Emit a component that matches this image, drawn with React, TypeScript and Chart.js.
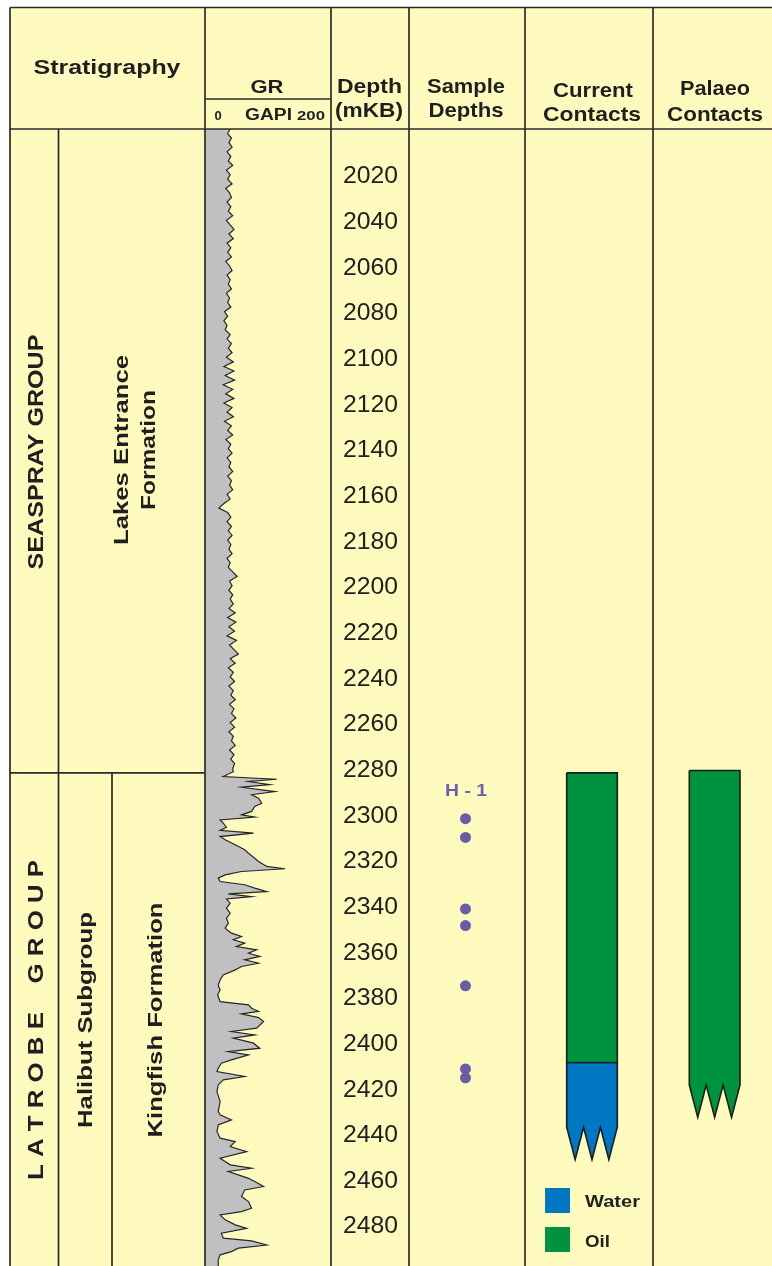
import { useEffect, useRef } from 'react';
import { Chart, registerables } from 'chart.js';

Chart.register(...registerables);

// ---------------- DATA ----------------
const depthTicks = [2020, 2040, 2060, 2080, 2100, 2120, 2140, 2160, 2180, 2200, 2220, 2240, 2260, 2280, 2300, 2320, 2340, 2360, 2380, 2400, 2420, 2440, 2460, 2480];

// [depth mKB, GR GAPI]
const grLog: [number, number][] = [
  [2000, 40], [2002, 36], [2004, 42], [2006, 38], [2008, 43], [2010, 35], [2012, 41], [2014, 37], [2016, 44], [2018, 34],
  [2020, 40], [2022, 36], [2024, 43], [2026, 33], [2028, 39], [2030, 42], [2032, 35], [2034, 41], [2036, 37], [2038, 44],
  [2040, 34], [2042, 40], [2044, 46], [2046, 38], [2048, 45], [2050, 35], [2052, 41], [2054, 36], [2056, 42], [2058, 33],
  [2060, 39], [2062, 43], [2064, 35], [2066, 40], [2068, 37], [2070, 42], [2072, 34], [2074, 39], [2076, 36], [2078, 41],
  [2080, 31], [2082, 36], [2084, 30], [2086, 35], [2088, 32], [2090, 40], [2092, 35], [2094, 42], [2096, 37], [2098, 43],
  [2100, 34], [2102, 45], [2104, 30], [2106, 46], [2108, 32], [2110, 47], [2112, 29], [2114, 44], [2116, 33], [2118, 46],
  [2120, 30], [2122, 43], [2124, 35], [2126, 45], [2128, 31], [2130, 42], [2132, 36], [2134, 44], [2136, 33], [2138, 41],
  [2140, 37], [2142, 43], [2144, 35], [2146, 41], [2148, 38], [2150, 44], [2152, 36], [2154, 42], [2156, 39], [2158, 44],
  [2160, 35], [2162, 40], [2164, 30], [2166, 22], [2168, 36], [2170, 41], [2172, 35], [2174, 42], [2176, 37], [2178, 43],
  [2180, 36], [2182, 41], [2184, 38], [2186, 43], [2188, 35], [2190, 40], [2192, 37], [2194, 44], [2196, 51], [2198, 39],
  [2200, 43], [2202, 38], [2204, 44], [2206, 40], [2208, 45], [2210, 38], [2212, 48], [2214, 36], [2216, 49], [2218, 38],
  [2220, 47], [2222, 35], [2224, 50], [2226, 39], [2228, 46], [2230, 53], [2232, 40], [2234, 48], [2236, 37], [2238, 45],
  [2240, 40], [2242, 47], [2244, 38], [2246, 45], [2248, 41], [2250, 48], [2252, 39], [2254, 46], [2256, 42], [2258, 49],
  [2260, 40], [2262, 47], [2264, 38], [2266, 45], [2268, 42], [2270, 48], [2272, 39], [2274, 46], [2276, 41], [2278, 47],
  [2280, 44], [2281.5, 45], [2283.6, 29], [2284.8, 114], [2285.8, 69], [2287.2, 103], [2288.3, 58], [2290.2, 111], [2291.6, 74], [2293.1, 85],
  [2295.3, 90], [2296.7, 79], [2298.9, 74], [2300.4, 58], [2301.4, 79], [2302.6, 24], [2304.0, 29], [2305.8, 34], [2307.2, 24], [2308.4, 77],
  [2309.9, 24], [2311.3, 32], [2313.5, 48], [2315.7, 63], [2317.2, 69], [2319.4, 79], [2320.8, 85], [2323.0, 98], [2324.0, 127], [2325.2, 58],
  [2326.7, 32], [2328.1, 21], [2329.6, 24], [2331.0, 63], [2332.5, 79], [2334.0, 98], [2335.0, 37], [2336.2, 74], [2337.2, 34], [2339.1, 40],
  [2341.3, 34], [2343.5, 40], [2345.7, 34], [2347.8, 37], [2350.0, 32], [2352.2, 42], [2353.7, 58], [2355.1, 45], [2356.6, 63], [2358.1, 50],
  [2359.5, 82], [2361.0, 69], [2362.4, 87], [2363.9, 63], [2365.4, 85], [2366.8, 58], [2368.3, 48], [2370.5, 29], [2372.7, 24], [2374.9, 21],
  [2377.1, 24], [2379.2, 20], [2382.2, 24], [2383.6, 69], [2385.1, 74], [2386.5, 85], [2387.6, 58], [2389.2, 85], [2390.9, 93], [2393.8, 82],
  [2395.3, 42], [2396.8, 79], [2398.2, 45], [2400.4, 77], [2402.6, 87], [2404.1, 37], [2405.5, 69], [2407.7, 42], [2409.2, 26], [2411.4, 21],
  [2412.8, 19], [2415.0, 63], [2416.5, 29], [2418.7, 21], [2421.6, 19], [2426.0, 24], [2430.3, 21], [2431.8, 24], [2434.0, 42], [2436.2, 21],
  [2439.1, 19], [2442.0, 24], [2443.5, 48], [2445.7, 40], [2447.9, 66], [2450.8, 24], [2453.7, 40], [2455.2, 74], [2456.6, 37], [2458.1, 53],
  [2459.6, 69], [2461.0, 79], [2463.2, 93], [2464.7, 63], [2467.6, 58], [2469.8, 69], [2472.7, 74], [2474.2, 58], [2475.6, 24], [2477.8, 32],
  [2480.0, 48], [2481.5, 66], [2483.6, 26], [2485.8, 29], [2487.0, 74], [2488.8, 98], [2490.2, 53], [2491.7, 42], [2493.1, 24], [2495.3, 21],
  [2498.0, 21],
];

const sampleWell = 'H - 1';
const sampleDepths = [2302.1, 2310.3, 2341.6, 2348.9, 2375.3, 2411.7, 2415.6];

const currentOil = [2282, 2408.9];
const currentWater = [2408.9, 2437.2];
const palaeoOil = [2281, 2418.7];

const formationTops = [2282]; // Seaspray / Latrobe boundary
const depthRange = [2000, 2498];
const grRange = [0, 200];

// ---------------- LAYOUT / STYLE ----------------
const W = 772;
const H = 1266;
const FRAME_L = 10;
const FRAME_T = 7.5;
const HEAD_B = 129;
const GR_SUB_Y = 99;
const X_GR_L = 205;
const X_GR_R = 331;
const X_DEP_R = 409;
const X_SAM_R = 525;
const X_CUR_R = 653;
const X_STRAT1 = 58.5;
const X_STRAT2 = 112;
const SAMPLE_X = 465.5;
const CUR_BAR = [566.7, 617.3];
const PAL_BAR = [689.3, 740];
const TOOTH = 14.2;

const BG = '#fffbbe';
const LINE = '#2b2b2b';
const TXT = '#1f1f1f';
const GREY = '#c0c0c2';
const OIL = '#00933f';
const WATER = '#0077c3';
const DOT = '#6a5ba7';
const FONT = '"Liberation Sans", Arial, sans-serif';

// GR scale limits so that 0..200 spans the GR track within a full-width chart area
const grPxPerUnit = (X_GR_R - X_GR_L) / (grRange[1] - grRange[0]);
const grMin = grRange[0] - (X_GR_L - FRAME_L) / grPxPerUnit;
const grMax = grMin + (W - FRAME_L) / grPxPerUnit;

function contactShape(xs: number[], top: number, base: number, teeth: boolean) {
  const [xl, xr] = xs;
  const w = xr - xl;
  const pts = [{ x: xl, y: top }, { x: xr, y: top }, { x: xr, y: base }];
  if (teeth) {
    pts.push(
      { x: xl + (w * 5) / 6, y: base + TOOTH },
      { x: xl + (w * 2) / 3, y: base },
      { x: xl + w / 2, y: base + TOOTH },
      { x: xl + w / 3, y: base },
      { x: xl + w / 6, y: base + TOOTH },
    );
  }
  pts.push({ x: xl, y: base }, { x: xl, y: top });
  return pts;
}

type LabelOpts = { bold?: boolean; color?: string; rot?: number; align?: CanvasTextAlign; width?: number };

function label(ctx: CanvasRenderingContext2D, s: string, x: number, base: number, size: number, o: LabelOpts = {}) {
  ctx.save();
  ctx.font = `${o.bold === false ? '' : 'bold '}${size}px ${FONT}`;
  const m = ctx.measureText(s).width;
  const sx = o.width ? o.width / m : 1;
  ctx.translate(x, base);
  if (o.rot) ctx.rotate(o.rot);
  ctx.scale(sx, 1);
  ctx.textAlign = o.align || 'center';
  ctx.textBaseline = 'alphabetic';
  ctx.fillStyle = o.color || TXT;
  ctx.fillText(s, 0, 0);
  ctx.restore();
}

const decorPlugin = {
  id: 'decor',
  beforeDraw(chart: any) {
    const ctx: CanvasRenderingContext2D = chart.ctx;
    ctx.save();
    ctx.fillStyle = '#ffffff';
    ctx.fillRect(0, 0, W, H);
    ctx.fillStyle = BG;
    ctx.fillRect(FRAME_L, FRAME_T, W - FRAME_L, H - FRAME_T);
    ctx.restore();
  },
  afterDatasetsDraw(chart: any) {
    const ctx: CanvasRenderingContext2D = chart.ctx;
    const y = chart.scales.y;
    const topY = y.getPixelForValue(formationTops[0]);

    // grid / frame lines
    ctx.save();
    ctx.strokeStyle = LINE;
    ctx.lineWidth = 1.7;
    const seg = (x1: number, y1: number, x2: number, y2: number) => {
      ctx.beginPath();
      ctx.moveTo(x1, y1);
      ctx.lineTo(x2, y2);
      ctx.stroke();
    };
    seg(FRAME_L, FRAME_T, W, FRAME_T);
    seg(FRAME_L, HEAD_B, W, HEAD_B);
    seg(X_GR_L, GR_SUB_Y, X_GR_R, GR_SUB_Y);
    [FRAME_L, X_GR_L, X_GR_R, X_DEP_R, X_SAM_R, X_CUR_R].forEach((x) => seg(x, FRAME_T, x, H));
    seg(X_STRAT1, HEAD_B, X_STRAT1, H);
    seg(X_STRAT2, topY, X_STRAT2, H);
    seg(FRAME_L, topY, X_GR_L, topY);
    ctx.restore();

    // header text
    label(ctx, 'Stratigraphy', 107, 74, 21, { width: 147 });
    label(ctx, 'GR', 267, 93, 18, { width: 33 });
    label(ctx, '0', 218, 120, 13);
    label(ctx, 'GAPI', 245, 120, 16, { align: 'left', width: 47 });
    label(ctx, '200', 297, 120, 12.5, { align: 'left', width: 28 });
    label(ctx, 'Depth', 369.5, 92.5, 21, { width: 65 });
    label(ctx, '(mKB)', 369, 116.5, 21, { width: 68 });
    label(ctx, 'Sample', 466, 92.5, 21, { width: 78 });
    label(ctx, 'Depths', 466, 116.5, 21, { width: 75 });
    label(ctx, 'Current', 593, 96.5, 21, { width: 80 });
    label(ctx, 'Contacts', 592, 121, 21, { width: 98 });
    label(ctx, 'Palaeo', 715, 95, 21, { width: 70 });
    label(ctx, 'Contacts', 715, 121, 21, { width: 96 });

    // depth tick labels
    depthTicks.forEach((t) => {
      const py = y.getPixelForValue(t);
      label(ctx, String(t), 370.5, py + 0.358 * 24, 24, { bold: false, width: 55, color: '#202020' });
    });

    // stratigraphy (rotated)
    const R = -Math.PI / 2;
    label(ctx, 'SEASPRAY GROUP', 35.5 + 0.358 * 22, 452, 22, { rot: R, width: 235 });
    label(ctx, 'Lakes Entrance', 121 + 0.33 * 21, 450, 21, { rot: R, width: 190 });
    label(ctx, 'Formation', 148 + 0.33 * 21, 450, 21, { rot: R, width: 120 });
    label(ctx, 'L A T R O B E    G R O U P', 35.5 + 0.358 * 22, 1020, 22, { rot: R, width: 320 });
    label(ctx, 'Halibut Subgroup', 85 + 0.33 * 20, 1020, 20, { rot: R, width: 216 });
    label(ctx, 'Kingfish Formation', 155 + 0.33 * 21, 1020, 21, { rot: R, width: 235 });

    // sample well label
    label(ctx, sampleWell, 466, 796, 17, { color: '#6d60aa', width: 42 });

    // legend
    ctx.save();
    ctx.fillStyle = WATER;
    ctx.fillRect(545, 1188, 25, 25);
    ctx.fillStyle = OIL;
    ctx.fillRect(545, 1227, 25, 25);
    ctx.restore();
    label(ctx, 'Water', 585, 1207, 17, { align: 'left', width: 55 });
    label(ctx, 'Oil', 585, 1246.5, 17, { align: 'left', width: 25 });
  },
};

export default function App() {
  const ref = useRef<HTMLCanvasElement>(null);
  useEffect(() => {
    if (!ref.current) return;
    const shapeDs = (data: any[], color: string) => ({
      type: 'line' as const,
      xAxisID: 'xPx',
      yAxisID: 'y',
      data,
      fill: 'shape',
      backgroundColor: color,
      borderColor: '#1c1c1c',
      borderWidth: 1.6,
      borderJoinStyle: 'miter' as const,
      pointRadius: 0,
      pointHitRadius: 0,
      tension: 0,
    });
    const chart = new Chart(ref.current, {
      type: 'line',
      data: {
        datasets: [
          {
            type: 'line',
            indexAxis: 'y',
            xAxisID: 'xGR',
            yAxisID: 'y',
            data: grLog.map(([d, g]) => ({ x: g, y: d })),
            borderColor: '#262626',
            borderWidth: 1.2,
            backgroundColor: GREY,
            fill: { value: grRange[0] },
            pointRadius: 0,
            pointHitRadius: 0,
            tension: 0,
          } as any,
          shapeDs(contactShape(CUR_BAR, currentOil[0], currentOil[1], false), OIL) as any,
          shapeDs(contactShape(CUR_BAR, currentWater[0], currentWater[1], true), WATER) as any,
          shapeDs(contactShape(PAL_BAR, palaeoOil[0], palaeoOil[1], true), OIL) as any,
          {
            type: 'line',
            xAxisID: 'xPx',
            yAxisID: 'y',
            data: sampleDepths.map((d) => ({ x: SAMPLE_X, y: d })),
            showLine: false,
            pointRadius: 5.5,
            pointBackgroundColor: DOT,
            pointBorderWidth: 0,
            pointBorderColor: DOT,
            pointHitRadius: 0,
          } as any,
        ],
      },
      options: {
        responsive: false,
        maintainAspectRatio: false,
        animation: false,
        events: [],
        layout: { autoPadding: false, padding: { left: FRAME_L, top: HEAD_B, right: 0, bottom: 0 } },
        plugins: { legend: { display: false }, tooltip: { enabled: false } },
        scales: {
          y: { type: 'linear', axis: 'y', min: depthRange[0], max: depthRange[1], reverse: true, display: false },
          xGR: { type: 'linear', axis: 'x', min: grMin, max: grMax, display: false },
          xPx: { type: 'linear', axis: 'x', min: FRAME_L, max: W, display: false },
        },
      } as any,
      plugins: [decorPlugin],
    });
    return () => chart.destroy();
  }, []);
  return (
    <div style={{ position: 'absolute', left: 0, top: 0, width: W, height: H, overflow: 'hidden' }}>
      <canvas ref={ref} width={W} height={H} style={{ display: 'block', width: W, height: H }} />
    </div>
  );
}
